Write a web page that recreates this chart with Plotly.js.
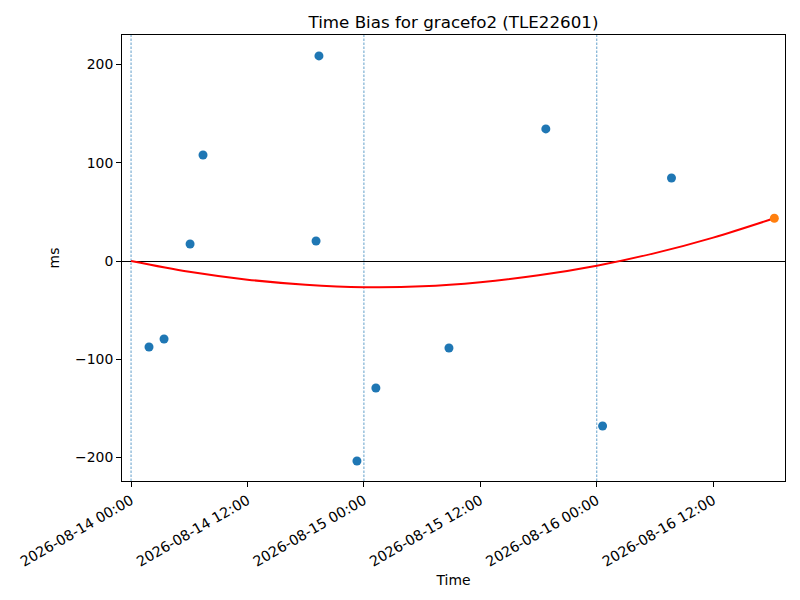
<!DOCTYPE html>
<html>
<head>
<meta charset="utf-8">
<script src="https://cdn.plot.ly/plotly-3.0.1.min.js"></script>
<style>
  body { margin: 0; background: #fff; }
  #chart { width: 800px; height: 600px; }
</style>
</head>
<body>
<div id="chart"></div>
<script>
// observed time bias samples
const obs_times = [
    '2026-08-14 01:51', '2026-08-14 03:24', '2026-08-14 06:05', '2026-08-14 07:25',
    '2026-08-14 19:22', '2026-08-14 19:04', '2026-08-14 23:17', '2026-08-15 01:14',
    '2026-08-15 08:46', '2026-08-15 18:45', '2026-08-16 00:36', '2026-08-16 07:42'
];
const obs_ms = [-87.5, -79.4, 17.3, 107.9, 208.7, 20.4, -203.6, -129.3, -88.5, 134.4, -167.9, 84.5];

// latest point
const last_time = ['2026-08-16 18:18'];
const last_ms = [43.5];

// fitted curve
const fit_times = [
    '2026-08-14 00:00', '2026-08-14 06:00', '2026-08-14 12:00', '2026-08-14 18:00',
    '2026-08-15 00:00', '2026-08-15 06:00', '2026-08-15 12:00', '2026-08-15 18:00',
    '2026-08-16 00:00', '2026-08-16 06:00', '2026-08-16 12:00', '2026-08-16 18:18'
];
const fit_ms = [0, -11.0, -19.0, -24.1, -26.6, -25.8, -21.6, -14.6, -4.8, 8.0, 23.8, 43.5];

// day boundaries
const day_lines = ['2026-08-14 00:00', '2026-08-15 00:00', '2026-08-16 00:00'];

const font = 'DejaVu Sans, sans-serif';

var obs_trace = {
    x: obs_times,
    y: obs_ms,
    type: 'scatter',
    mode: 'markers',
    marker: { color: '#1f77b4', size: 9 },
    hoverinfo: 'x+y'
};

var fit_trace = {
    x: fit_times,
    y: fit_ms,
    type: 'scatter',
    mode: 'lines',
    line: { color: 'red', width: 2, shape: 'spline' }
};

var last_trace = {
    x: last_time,
    y: last_ms,
    type: 'scatter',
    mode: 'markers',
    marker: { color: '#ff7f0e', size: 9 }
};

const shapes = day_lines.map(d => ({
    type: 'line',
    xref: 'x', yref: 'paper',
    x0: d, x1: d, y0: 0, y1: 1,
    line: { color: '#1f77b4', width: 0.7, dash: '2.5px,1.5px' },
    layer: 'below'
}));

const layout = {
    width: 800,
    height: 600,
    margin: { l: 122, r: 15, t: 35, b: 119 },
    paper_bgcolor: 'white',
    plot_bgcolor: 'white',
    showlegend: false,
    font: { family: font, size: 13.9, color: 'black' },
    title: {
        text: 'Time Bias for gracefo2 (TLE22601)',
        font: { family: font, size: 16.7, color: 'black' },
        x: 0.5, xref: 'paper', xanchor: 'center',
        y: 1, yref: 'paper', yanchor: 'bottom', pad: { b: 7 }
    },
    xaxis: {
        type: 'date',
        range: ['2026-08-13 23:04', '2026-08-16 19:24'],
        tick0: '2026-08-14 00:00',
        dtick: 43200000,
        tickformat: '%Y-%m-%d %H:%M',
        tickangle: -30,
        tickfont: { family: font, size: 14.2 },
        showgrid: false,
        zeroline: false,
        showline: true, linecolor: 'black', linewidth: 1, mirror: true,
        ticks: 'outside', ticklen: 5, tickcolor: 'black',
        title: { text: 'Time', font: { family: font, size: 13.9 }, standoff: 6 }
    },
    yaxis: {
        range: [-223.9, 230],
        dtick: 100,
        showgrid: false,
        zeroline: true, zerolinecolor: 'black', zerolinewidth: 0.8,
        showline: true, linecolor: 'black', linewidth: 1, mirror: true,
        ticks: 'outside', ticklen: 5, tickcolor: 'black',
        title: { text: 'ms', font: { family: font, size: 13.9 }, standoff: 12 }
    },
    shapes: shapes
};

Plotly.newPlot('chart', [fit_trace, obs_trace, last_trace], layout, { displayModeBar: false });
</script>
</body>
</html>
